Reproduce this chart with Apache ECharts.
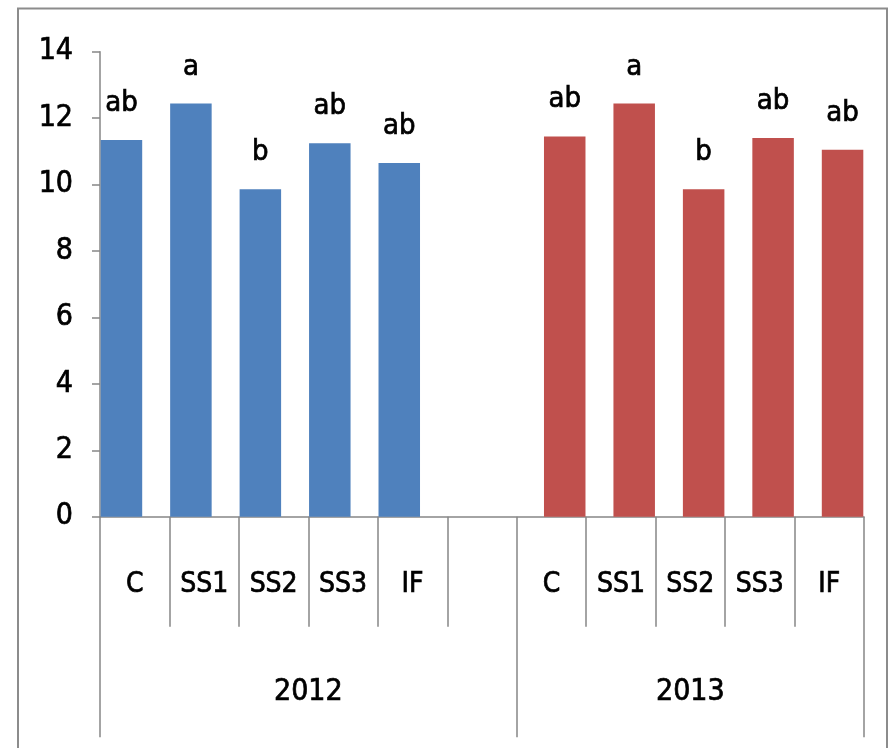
<!DOCTYPE html>
<html>
<head>
<meta charset="utf-8">
<script src="https://cdn.jsdelivr.net/npm/echarts@6/dist/echarts.min.js"></script>
<style>
  html, body { margin: 0; padding: 0; background: #ffffff; }
  #chart { width: 890px; height: 748px; }
</style>
</head>
<body>
<div id="chart"></div>
<script>
// Treatments measured in each year
const treatments = ['C', 'SS1', 'SS2', 'SS3', 'IF'];
const years = ['2012', '2013'];

// Mean values per treatment
const values2012 = [11.34, 12.44, 9.86, 11.24, 10.65];
const values2013 = [11.45, 12.44, 9.86, 11.40, 11.05];

// Significance letters above each bar
const letters2012 = ['ab', 'a', 'b', 'ab', 'ab'];
const letters2013 = ['ab', 'a', 'b', 'ab', 'ab'];

// Y axis range
const yMin = 0;
const yMax = 14;
const yStep = 2;

// Category slots: 2012 treatments, one empty spacer slot, then 2013 treatments
const categories = treatments.concat(['']).concat(treatments);
const groupSizes = [treatments.length + 1, treatments.length];

const gap = '-';
const data2012 = values2012.concat(new Array(categories.length - values2012.length).fill(gap));
const data2013 = new Array(groupSizes[0]).fill(gap).concat(values2013);

// Year group boundaries and centres on a 0..N scale
const groupEdges = [0];
groupSizes.forEach(s => groupEdges.push(groupEdges[groupEdges.length - 1] + s));
const groupCenters = groupSizes.map((s, i) => groupEdges[i] + s / 2);

const FONT = "'DejaVu Sans Condensed', 'Liberation Sans Narrow', 'Liberation Sans', sans-serif";
const AXIS_GRAY = '#868686';

// Shared look for all text: black with a hairline outline for a heavier stroke
function txt(size) {
  return {
    color: '#000000',
    fontFamily: FONT,
    fontSize: size,
    textBorderColor: '#000000',
    textBorderWidth: 0.7
  };
}

const chart = echarts.init(document.getElementById('chart'), null, { renderer: 'canvas' });

chart.setOption({
  backgroundColor: '#ffffff',
  animation: false,
  textStyle: { fontFamily: FONT },
  graphic: [{
    type: 'rect',
    silent: true,
    shape: { x: 18, y: 8.5, width: 869, height: 760 },
    style: { fill: 'none', stroke: '#8c8c8c', lineWidth: 2 }
  }],
  grid: {
    left: 100,
    right: 26,
    top: 51.7,
    bottom: 231.3,
    containLabel: false,
    outerBoundsMode: 'none'
  },
  xAxis: [{
    type: 'category',
    data: categories,
    position: 'bottom',
    axisLine: { show: true, lineStyle: { color: AXIS_GRAY, width: 1.5 } },
    axisTick: {
      show: true, interval: 0, length: 110,
      lineStyle: { color: AXIS_GRAY, width: 1.5 }
    },
    axisLabel: Object.assign({
      interval: 0,
      margin: 68,
      verticalAlign: 'middle'
    }, txt(28)),
    splitLine: { show: false }
  }, {
    type: 'value',
    position: 'bottom',
    min: groupEdges[0],
    max: groupEdges[groupEdges.length - 1],
    axisLine: { show: false },
    axisTick: {
      show: true, length: 220.5,
      customValues: groupEdges,
      lineStyle: { color: AXIS_GRAY, width: 1.5 }
    },
    axisLabel: Object.assign({
      show: true,
      customValues: groupCenters,
      margin: 176,
      verticalAlign: 'middle',
      formatter: function (v) {
        const i = groupCenters.findIndex(c => Math.abs(c - v) < 1e-6);
        return i >= 0 ? years[i] : '';
      }
    }, txt(30)),
    splitLine: { show: false }
  }],
  yAxis: {
    type: 'value',
    min: yMin,
    max: yMax,
    interval: yStep,
    axisLine: { show: true, lineStyle: { color: AXIS_GRAY, width: 1.5 } },
    axisTick: { show: true, length: 8, lineStyle: { color: AXIS_GRAY, width: 1.5 } },
    axisLabel: Object.assign({ margin: 27 }, txt(30)),
    splitLine: { show: false }
  },
  series: [{
    name: years[0],
    type: 'bar',
    xAxisIndex: 0,
    data: data2012,
    barCategoryGap: '2%',
    barGap: '-36%',
    itemStyle: { color: '#4F81BD' },
    label: Object.assign({
      show: true,
      position: 'top',
      distance: 22,
      formatter: p => letters2012[p.dataIndex] || ''
    }, txt(29))
  }, {
    name: years[1],
    type: 'bar',
    xAxisIndex: 0,
    data: data2013,
    barCategoryGap: '2%',
    barGap: '-36%',
    itemStyle: { color: '#C0504D' },
    label: Object.assign({
      show: true,
      position: 'top',
      distance: 22,
      formatter: p => letters2013[p.dataIndex - groupSizes[0]] || ''
    }, txt(29))
  }]
});
</script>
</body>
</html>
